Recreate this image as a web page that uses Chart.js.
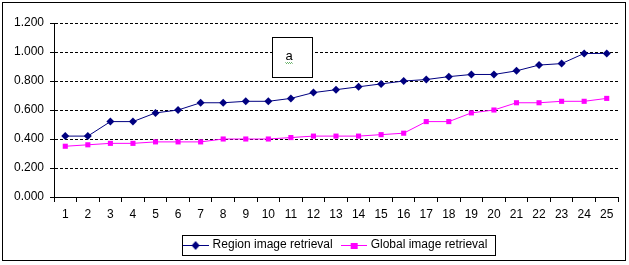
<!DOCTYPE html>
<html>
<head>
<meta charset="utf-8">
<script src="https://cdn.jsdelivr.net/npm/chart.js@4"></script>
<style>
  html, body { margin: 0; padding: 0; background: #fff; }
  #wrap { width: 629px; height: 265px; }
</style>
</head>
<body>
<div id="wrap"><canvas id="graph" width="629" height="265"></canvas></div>
<script>
// data
const labels = ['1','2','3','4','5','6','7','8','9','10','11','12','13','14','15','16','17','18','19','20','21','22','23','24','25'];
const region = [0.42,0.42,0.52,0.52,0.58,0.60,0.65,0.65,0.66,0.66,0.68,0.72,0.74,0.76,0.78,0.80,0.81,0.83,0.845,0.845,0.87,0.91,0.92,0.99,0.99];
const global = [0.35,0.36,0.37,0.37,0.38,0.38,0.38,0.40,0.40,0.40,0.41,0.42,0.42,0.42,0.43,0.44,0.52,0.52,0.58,0.60,0.65,0.65,0.66,0.66,0.68];
const seriesNames = ['Region image retrieval', 'Global image retrieval'];
const navy = '#000080';
const magenta = '#FF00FF';
const fontFam = '"Liberation Sans", Arial, sans-serif';

// legend symbol: short line with the marker in the middle
function legendSymbol(color, shape){
	const c = document.createElement('canvas');
	c.width = 26; c.height = 10;
	const g = c.getContext('2d');
	g.strokeStyle = color; g.lineWidth = 1;
	g.beginPath(); g.moveTo(0, 5.5); g.lineTo(26, 5.5); g.stroke();
	g.fillStyle = color;
	if (shape == 'diamond'){
		g.beginPath(); g.moveTo(13, 1); g.lineTo(17, 5.5); g.lineTo(13, 10); g.lineTo(9, 5.5); g.closePath(); g.fill();
	} else {
		g.fillRect(10, 3, 7, 6);
	}
	return c;
}
const symbols = [legendSymbol(navy, 'diamond'), legendSymbol(magenta, 'square')];

const extras = {
	id: 'extras',
	afterDraw(chart){
		const ctx = chart.ctx;
		const a = chart.chartArea;
		ctx.save();
		// outer frame
		ctx.strokeStyle = '#000'; ctx.lineWidth = 1;
		ctx.strokeRect(2.5, 2.5, 623, 258);
		// legend frame
		const hb = chart.legend.legendHitBoxes;
		if (hb && hb.length){
			let l = Math.min(...hb.map(h => h.left)) - 3;
			let r = Math.max(...hb.map(h => h.left + h.width)) + 7;
			let t = hb[0].top - 4;
			let b = hb[0].top + hb[0].height + 4;
			ctx.strokeRect(Math.round(l) + 0.5, Math.round(t) + 0.5, Math.round(r - l), Math.round(b - t));
		}
		// "a" text box
		const bx = Math.round(a.left + (a.right - a.left) * 0.3865) + 0.5;
		const by = Math.round(a.top + (a.bottom - a.top) * 0.081) + 0.5;
		ctx.fillStyle = '#fff';
		ctx.fillRect(bx, by, 40, 40);
		ctx.strokeRect(bx, by, 40, 40);
		ctx.fillStyle = '#000';
		ctx.font = '13px ' + fontFam;
		ctx.textAlign = 'left'; ctx.textBaseline = 'alphabetic';
		ctx.fillText('a', bx + 13, by + 22);
		// spelling squiggle
		ctx.strokeStyle = '#3a9a3a';
		ctx.beginPath();
		for (let i = 0; i <= 7; i++){
			const x = bx + 13 + i;
			const y = by + 25 + (i % 2 ? 1 : 0);
			if (i == 0) ctx.moveTo(x, y); else ctx.lineTo(x, y);
		}
		ctx.stroke();
		ctx.restore();
	}
};

new Chart(document.getElementById('graph'), {
	type: 'line',
	data: {
		labels: labels,
		datasets: [{
			label: seriesNames[0],
			data: region,
			borderColor: navy,
			backgroundColor: navy,
			borderWidth: 1,
			pointStyle: 'rectRot',
			pointRadius: 4,
			pointBorderWidth: 0,
			tension: 0,
			fill: false
		}, {
			label: seriesNames[1],
			data: global,
			borderColor: magenta,
			backgroundColor: magenta,
			borderWidth: 1,
			pointStyle: 'rect',
			pointRadius: 3.6,
			pointBorderWidth: 0,
			tension: 0,
			fill: false
		}]
	},
	options: {
		responsive: false,
		animation: false,
		layout: { padding: { left: 0, right: 11, top: 23, bottom: 4 } },
		plugins: {
			tooltip: { enabled: false },
			legend: {
				position: 'bottom',
				fullSize: false,
				labels: {
					color: '#000',
					font: { family: fontFam, size: 12 },
					usePointStyle: true,
					pointStyleWidth: 22,
					padding: 10,
					generateLabels(chart){
						return chart.data.datasets.map((ds, i) => ({
							text: ds.label,
							pointStyle: symbols[i],
							fillStyle: ds.borderColor,
							strokeStyle: ds.borderColor,
							lineWidth: 0,
							hidden: false,
							datasetIndex: i,
							fontColor: '#000'
						}));
					}
				}
			}
		},
		scales: {
			x: {
				offset: true,
				afterFit(scale){ scale.height = 32; },
				grid: {
					offset: true,
					drawOnChartArea: false,
					drawTicks: true,
					tickLength: 5,
					tickColor: '#000'
				},
				border: { color: '#000', width: 1 },
				ticks: {
					color: '#000',
					font: { family: fontFam, size: 12 },
					padding: 5,
					maxRotation: 0,
					autoSkip: false
				}
			},
			y: {
				min: 0,
				max: 1.2,
				afterFit(scale){ scale.width = 54; },
				grid: {
					color: '#000',
					drawTicks: true,
					tickLength: 4,
					tickColor: '#000',
					tickBorderDash: [],
					lineWidth: 1
				},
				border: { color: '#000', width: 1, dash: [3, 2] },
				ticks: {
					stepSize: 0.2,
					color: '#000',
					font: { family: fontFam, size: 12 },
					padding: 6,
					callback: v => v.toFixed(3)
				}
			}
		}
	},
	plugins: [extras]
});
</script>
</body>
</html>
